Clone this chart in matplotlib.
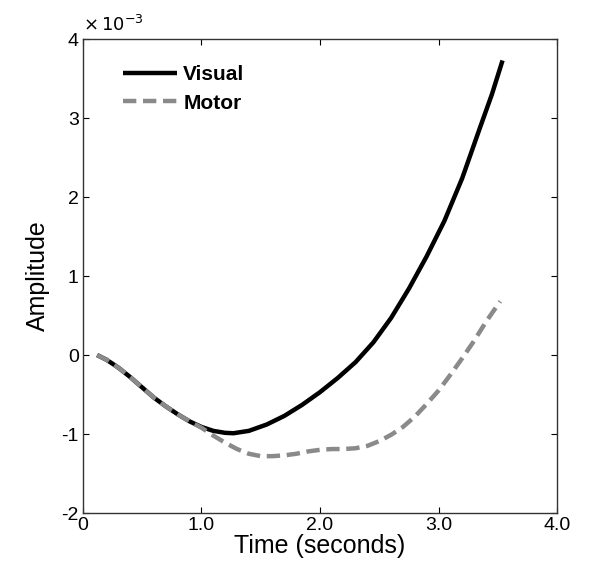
import matplotlib.pyplot as plt

plt.rcParams['font.family'] = ['Liberation Sans', 'DejaVu Sans']
plt.rcParams['axes.unicode_minus'] = False

# amplitude values in units of 1e-3
visual_t = [0.12, 0.20, 0.30, 0.40, 0.50, 0.60, 0.70, 0.80, 0.90, 1.00, 1.10,
            1.20, 1.27, 1.40, 1.55, 1.70, 1.85, 2.00, 2.15, 2.30, 2.45, 2.60,
            2.75, 2.90, 3.05, 3.20, 3.35, 3.45, 3.54]
visual_amp = [0.0, -0.06, -0.16, -0.28, -0.41, -0.54, -0.65, -0.75, -0.84, -0.91, -0.96,
              -0.985, -0.99, -0.96, -0.88, -0.77, -0.63, -0.47, -0.29, -0.09, 0.16, 0.47,
              0.84, 1.25, 1.70, 2.24, 2.88, 3.30, 3.73]

motor_t = [0.12, 0.20, 0.30, 0.40, 0.50, 0.60, 0.70, 0.80, 0.90, 1.00, 1.10,
           1.20, 1.30, 1.40, 1.50, 1.60, 1.70, 1.80, 1.90, 2.00, 2.10, 2.20,
           2.30, 2.40, 2.50, 2.60, 2.70, 2.80, 2.90, 3.00, 3.10, 3.20, 3.30,
           3.40, 3.52]
motor_amp = [0.0, -0.06, -0.16, -0.28, -0.41, -0.54, -0.65, -0.75, -0.84, -0.92, -1.02,
             -1.11, -1.19, -1.25, -1.28, -1.28, -1.27, -1.25, -1.22, -1.20, -1.19, -1.19,
             -1.18, -1.15, -1.09, -1.01, -0.91, -0.78, -0.62, -0.45, -0.25, -0.04, 0.18,
             0.42, 0.68]

xticks = [0, 1, 2, 3, 4]
xtick_labels = ['0', '1.0', '2.0', '3.0', '4.0']
yticks = [-2, -1, 0, 1, 2, 3, 4]

fig = plt.figure(figsize=(5.92, 5.73), dpi=100)
ax = fig.add_axes([0.140, 0.1047, 0.801, 0.827])

ax.plot(visual_t, visual_amp, color='black', lw=3.2, label='Visual',
        solid_capstyle='butt', solid_joinstyle='round', zorder=3)
ax.plot(motor_t, motor_amp, color='#8a8a8a', lw=3.2, linestyle=(0, (3, 1.5)),
        label='Motor', dash_capstyle='butt', zorder=4)

ax.set_xlim(0, 4)
ax.set_ylim(-2, 4)
ax.set_xticks(xticks)
ax.set_xticklabels(xtick_labels)
ax.set_yticks(yticks)
ax.tick_params(direction='in', length=4, width=0.8, labelsize=14,
               top=True, right=True, pad=3)
for sp in ax.spines.values():
    sp.set_linewidth(1.0)
    sp.set_color('#333333')

ax.set_xlabel('Time (seconds)', fontsize=18, labelpad=0)
ax.set_ylabel('Amplitude', fontsize=18, labelpad=8)

ax.text(0.0, 1.008, r'$\times\,10^{-3}$', transform=ax.transAxes,
        ha='left', va='bottom', fontsize=13)

leg = ax.legend(loc='upper left', bbox_to_anchor=(0.084, 0.945), frameon=False,
                borderpad=0, borderaxespad=0, handlelength=2.6, handletextpad=0.3,
                labelspacing=0.45, prop={'size': 15, 'weight': 'bold'})

fig.savefig('out.png', dpi=100)
